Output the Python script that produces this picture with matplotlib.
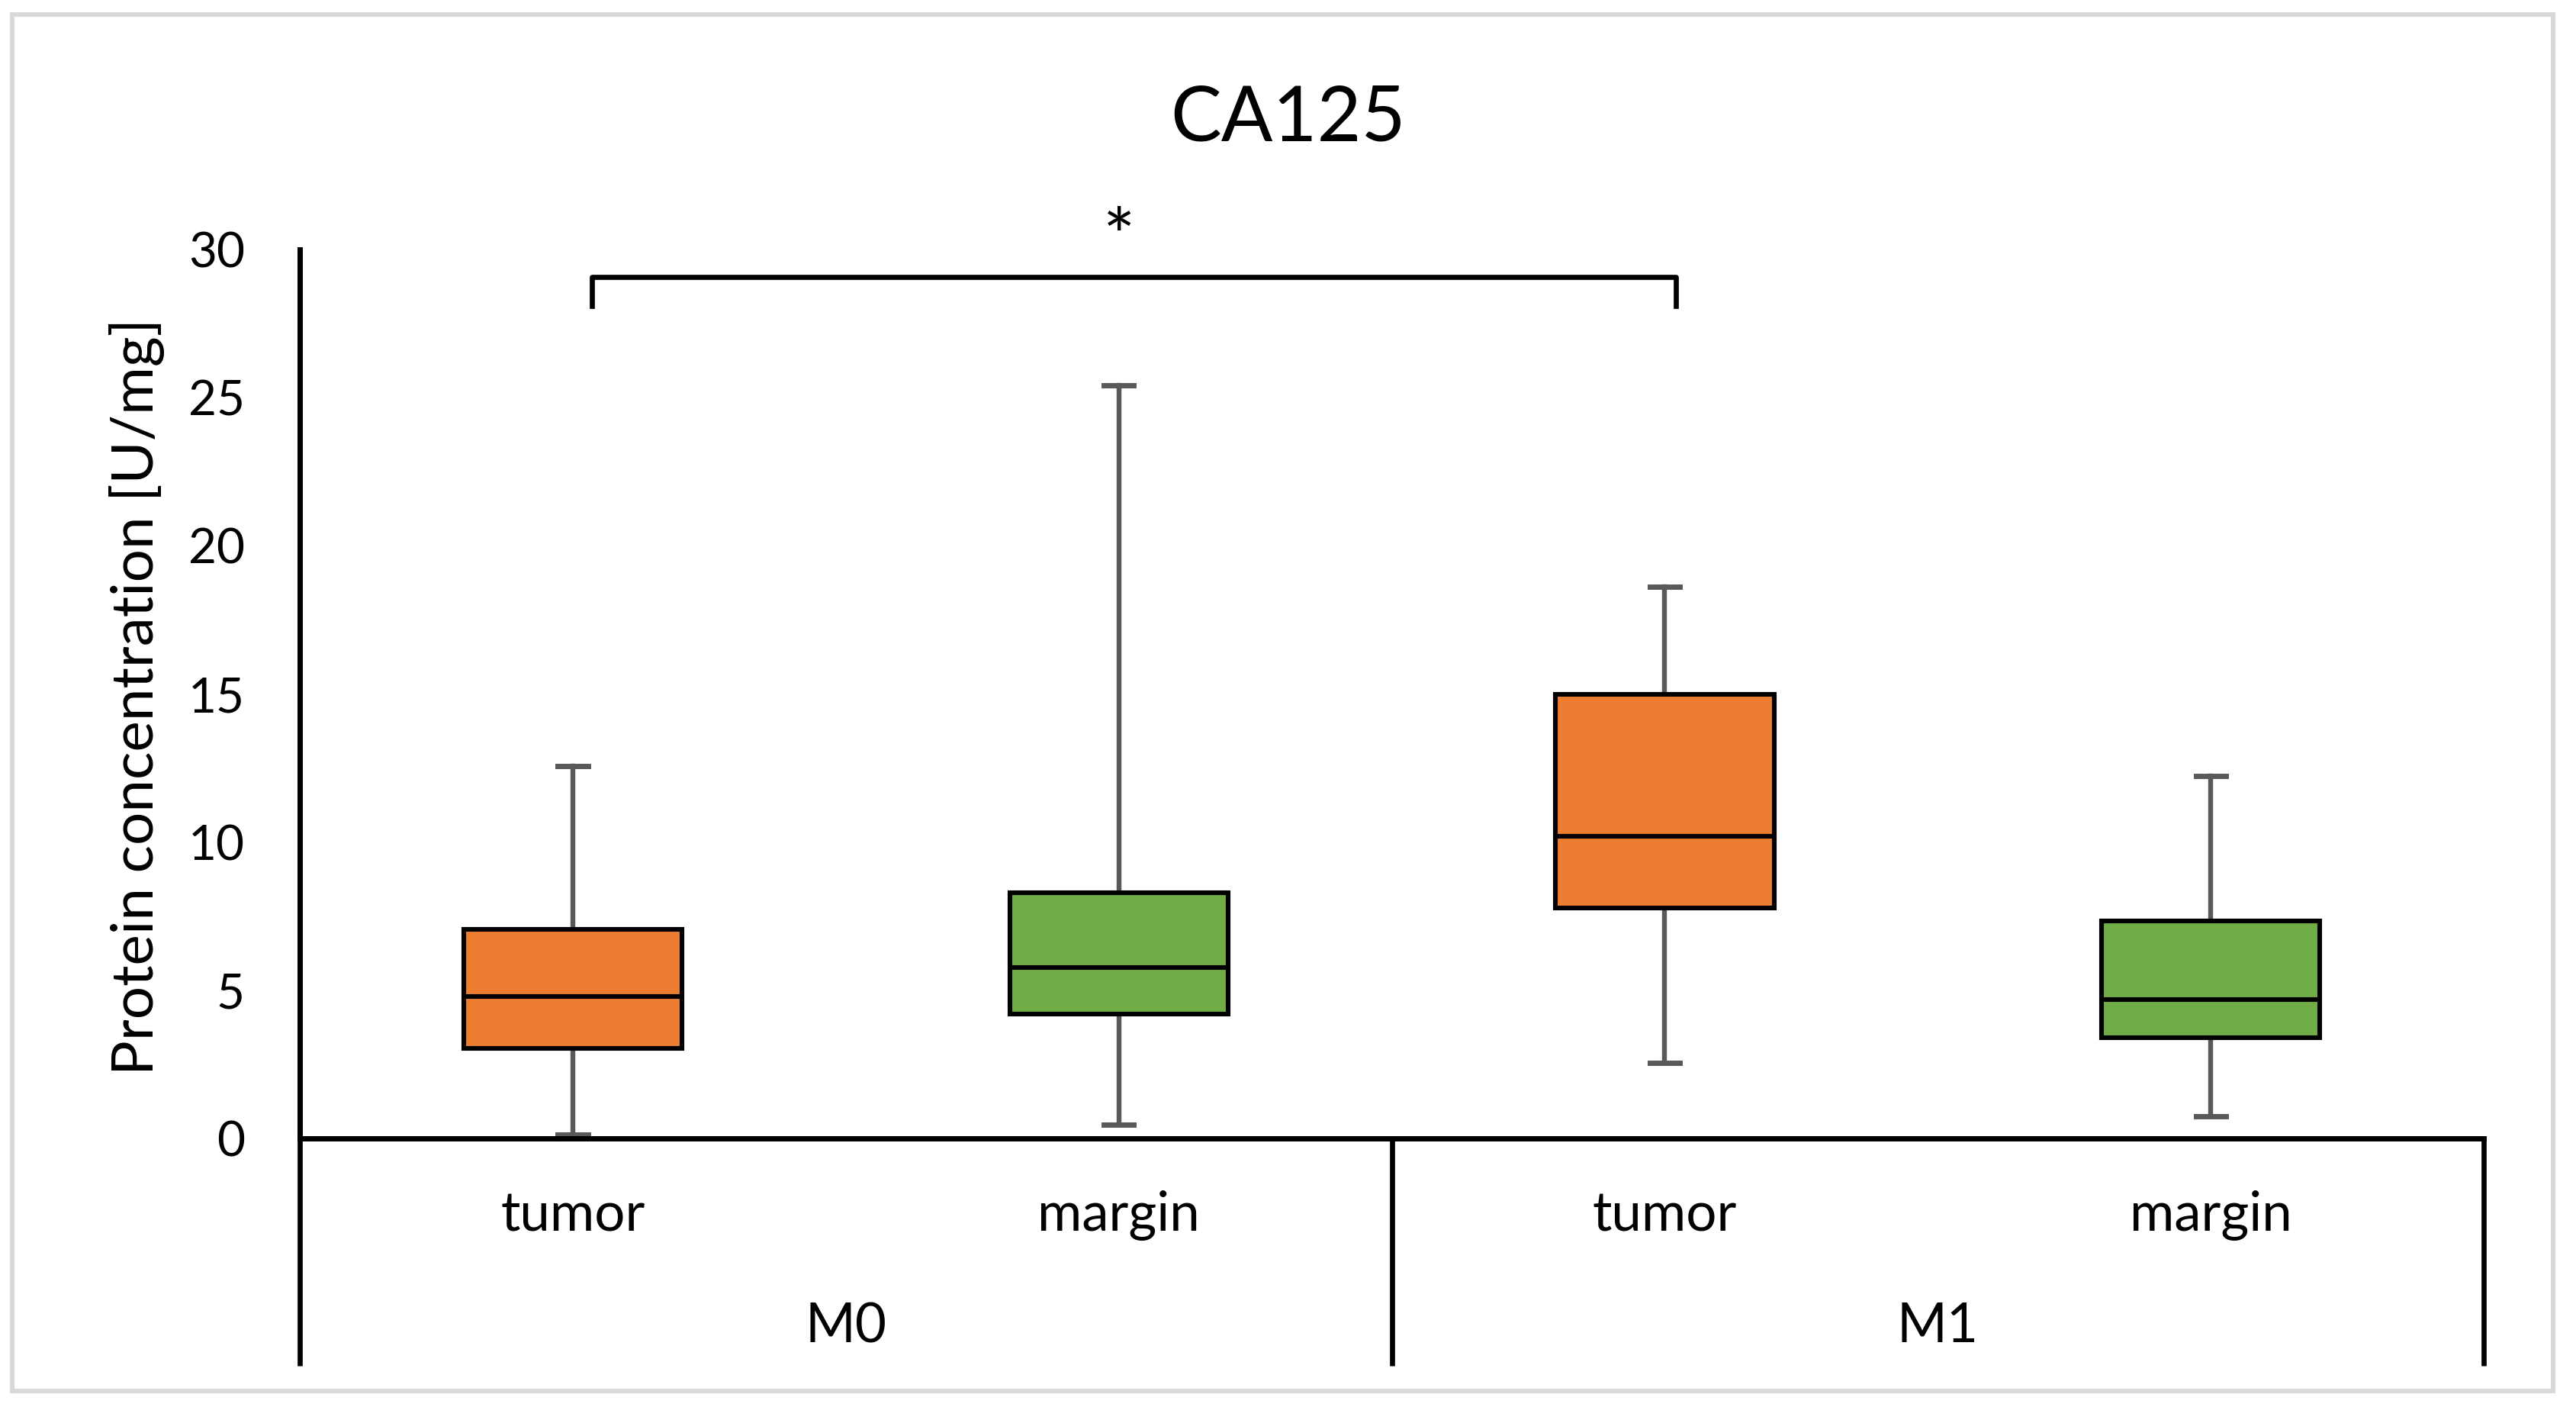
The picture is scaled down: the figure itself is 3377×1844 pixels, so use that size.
import matplotlib
matplotlib.use('Agg')
import matplotlib.pyplot as plt
from matplotlib.patches import Rectangle
import matplotlib.transforms as mtransforms

plt.rcParams['font.family'] = ['Lato', 'DejaVu Sans']

# dane
groups = ['M0', 'M1']
subgroups = ['tumor', 'margin', 'tumor', 'margin']
whislo = [0.14, 0.46, 2.55, 0.74]
q1 = [3.03, 4.21, 7.79, 3.40]
med = [4.79, 5.77, 10.21, 4.69]
q3 = [7.06, 8.28, 15.0, 7.33]
whishi = [12.56, 25.42, 18.63, 12.23]
box_colors = ['#ED7D31', '#70AD47', '#ED7D31', '#70AD47']
yticks = [0, 5, 10, 15, 20, 25, 30]

fig = plt.figure(figsize=(16.885, 9.22), dpi=200)
ax = fig.add_axes([0.1164, 0.1909, 0.8478, 0.6317])

stats = []
for i in range(len(subgroups)):
    stats.append({'whislo': whislo[i], 'q1': q1[i], 'med': med[i],
                  'q3': q3[i], 'whishi': whishi[i], 'fliers': []})

pos = list(range(len(subgroups)))
bp = ax.bxp(stats, positions=pos, widths=0.4, patch_artist=True,
            showfliers=False, capwidths=0.055,
            boxprops=dict(linewidth=2.2, edgecolor='black'),
            medianprops=dict(color='black', linewidth=2.2),
            whiskerprops=dict(color='#595959', linewidth=2.3),
            capprops=dict(color='#595959', linewidth=2.5))
for patch, c in zip(bp['boxes'], box_colors):
    patch.set_facecolor(c)
for w in bp['whiskers']:
    w.set_zorder(1)

ax.set_xlim(-0.5, 3.5)
ax.set_ylim(0, 30)
ax.set_yticks(yticks)
ax.set_xticks([])
ax.tick_params(axis='y', length=0, pad=26, labelsize=23)
for s in ['top', 'right']:
    ax.spines[s].set_visible(False)
ax.spines['left'].set_linewidth(2.5)
ax.spines['bottom'].set_linewidth(2.5)
ax.spines['left'].set_bounds(0, 30)

# os kategorii pod wykresem
trans = mtransforms.blended_transform_factory(ax.transData, ax.transAxes)
for x in [-0.5, 1.5, 3.5]:
    ax.plot([x, x], [0, -0.2555], transform=trans, color='black',
            linewidth=2.4, clip_on=False, solid_capstyle='butt')
for i, s in enumerate(subgroups):
    ax.text(pos[i], -0.0868, s, transform=trans, ha='center', va='center',
            fontsize=25.5)
for j, g in enumerate(groups):
    ax.text(0.5 + 2 * j, -0.2117, g, transform=trans, ha='center',
            va='center', fontsize=25.5)

# znacznik istotnosci
ax.plot([0.035, 0.035, 2.02, 2.02], [28.1, 29.07, 29.07, 28.1],
        color='black', linewidth=2.4, clip_on=False)
ax.text(1.0, 30.25, '*', ha='center', va='center', fontsize=36)

fig.text(0.5, 0.9154, 'CA125', ha='center', va='center', fontsize=36)
fig.text(0.0533, 0.505, 'Protein concentration [U/mg]', rotation=90,
         ha='center', va='center', fontsize=27.5)

# ramka wykresu
fig.patches.append(Rectangle((0.00474, 0.01139), 0.98638, 0.97804,
                             transform=fig.transFigure, fill=False,
                             edgecolor='#D9D9D9', linewidth=2.2))

fig.savefig('out.png', dpi=200)
